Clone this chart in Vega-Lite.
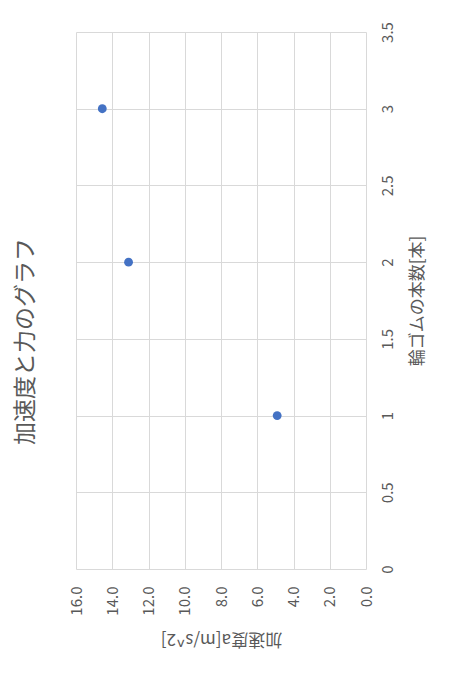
{
  "$schema": "https://vega.github.io/schema/vega-lite/v6.json",
  "width": 290,
  "height": 537,
  "autosize": {"type": "none"},
  "padding": {"left": 76, "top": 32, "right": 96, "bottom": 106},
  "background": "white",
  "title": {
    "text": "加速度と力のグラフ",
    "orient": "left",
    "anchor": "middle",
    "offset": 31,
    "dx": -41,
    "font": "Noto Sans CJK JP",
    "fontSize": 23,
    "fontWeight": "normal",
    "color": "#595959"
  },
  "data": {
    "values": [
      {"accel": 4.9, "count": 1},
      {"accel": 13.1, "count": 2},
      {"accel": 14.55, "count": 3}
    ]
  },
  "mark": {"type": "circle", "size": 78, "color": "#4472C4", "opacity": 1},
  "encoding": {
    "x": {
      "field": "accel",
      "type": "quantitative",
      "scale": {"domain": [0, 16], "reverse": true, "nice": false, "zero": true},
      "axis": {
        "orient": "bottom",
        "title": "加速度a[m/s^2]",
        "values": [0, 2, 4, 6, 8, 10, 12, 14, 16],
        "format": ".1f",
        "labelAngle": 270,
        "labelAlign": "right",
        "labelBaseline": "middle",
        "labelPadding": 17,
        "titleAngle": 180,
        "titlePadding": 14,
        "titleBaseline": "bottom"
      }
    },
    "y": {
      "field": "count",
      "type": "quantitative",
      "scale": {"domain": [0, 3.5], "nice": false, "zero": true},
      "axis": {
        "orient": "right",
        "title": "輪ゴムの本数[本]",
        "values": [0, 0.5, 1, 1.5, 2, 2.5, 3, 3.5],
        "format": "~g",
        "labelAngle": 270,
        "labelAlign": "center",
        "labelBaseline": "top",
        "labelPadding": 14,
        "titleAngle": 270,
        "titlePadding": 31
      }
    }
  },
  "config": {
    "view": {"stroke": null},
    "axis": {
      "domain": false,
      "ticks": false,
      "grid": true,
      "gridColor": "#d9d9d9",
      "gridWidth": 1,
      "labelFont": "Noto Sans CJK JP",
      "labelFontSize": 15,
      "labelColor": "#595959",
      "titleFont": "Noto Sans CJK JP",
      "titleFontSize": 17,
      "titleFontWeight": "normal",
      "titleColor": "#595959"
    }
  }
}
